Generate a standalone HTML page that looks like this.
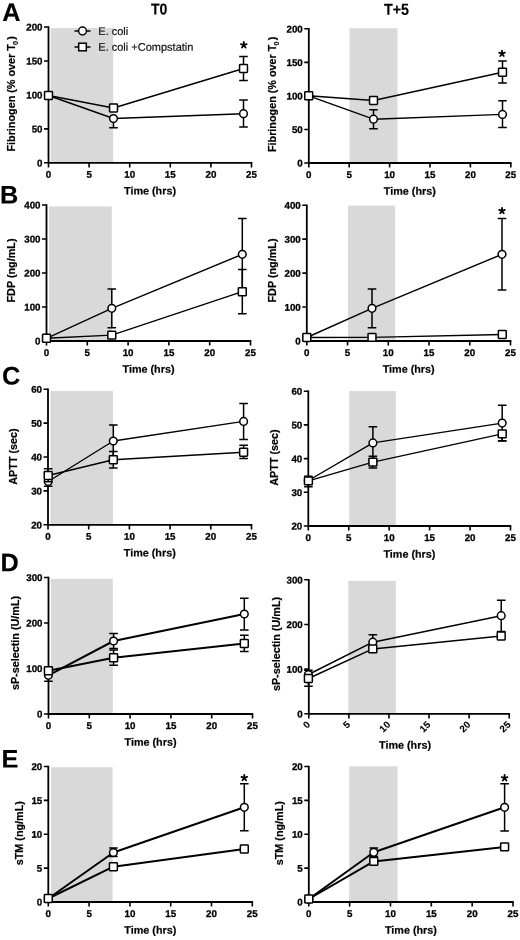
<!DOCTYPE html><html><head><meta charset="utf-8"><style>
html,body{margin:0;padding:0;background:#fff;width:520px;height:940px;overflow:hidden}
svg{display:block;will-change:transform;filter:blur(0.35px)} text{font-family:"Liberation Sans", sans-serif;font-weight:bold;fill:#000;stroke:#000;stroke-width:0.3px}
.tk{font-size:9.75px}.tkr{font-size:9.7px;stroke-width:0.1px}.ti{font-size:10.8px;stroke-width:0.2px}.pl{font-size:25.3px;stroke-width:0.15px}.hd{font-size:15.8px;stroke-width:0.15px}.st{font-size:13px}.lg{font-size:11px;font-weight:normal;fill:#111;stroke:#111;stroke-width:0.2px}
</style></head><body>
<svg width="520" height="940" viewBox="0 0 520 940">
<rect width="520" height="940" fill="#fff"/>
<text x="151" y="14.4" class="hd" textLength="16.4" lengthAdjust="spacingAndGlyphs" transform="rotate(0.05 151 14.4)">T0</text>
<text x="384" y="14.7" class="hd" textLength="25" lengthAdjust="spacingAndGlyphs" transform="rotate(0.05 384 14.7)">T+5</text>
<text x="2.3" y="21" class="pl" transform="rotate(0.05 2.3 21)">A</text>
<text x="0.1" y="203.5" class="pl" transform="rotate(0.05 0.1 203.5)">B</text>
<text x="1.9" y="384.6" class="pl" transform="rotate(0.05 1.9 384.6)">C</text>
<text x="0.5" y="571.2" class="pl" transform="rotate(0.05 0.5 571.2)">D</text>
<text x="1.4" y="767.6" class="pl" transform="rotate(0.05 1.4 767.6)">E</text>
<rect x="50.7" y="28.1" width="62.5" height="134.7" fill="#d9d9d9"/>
<path d="M48.5 26.2V162.8H252.3" fill="none" stroke="#000" stroke-width="1.8"/>
<path d="M44 162.8H48.5M44 128.85H48.5M44 94.9H48.5M44 60.95H48.5M44 27H48.5M48.5 162.8V167.4M89.1 162.8V167.4M129.7 162.8V167.4M170.3 162.8V167.4M210.9 162.8V167.4M251.5 162.8V167.4" fill="none" stroke="#000" stroke-width="1.6"/>
<text x="42.5" y="166.4" class="tk" text-anchor="end" transform="rotate(0.05 42.5 166.4)">0</text>
<text x="42.5" y="132.45" class="tk" text-anchor="end" transform="rotate(0.05 42.5 132.45)">50</text>
<text x="42.5" y="98.5" class="tk" text-anchor="end" transform="rotate(0.05 42.5 98.5)">100</text>
<text x="42.5" y="64.55" class="tk" text-anchor="end" transform="rotate(0.05 42.5 64.55)">150</text>
<text x="42.5" y="30.6" class="tk" text-anchor="end" transform="rotate(0.05 42.5 30.6)">200</text>
<text x="48.5" y="177.8" class="tk" text-anchor="middle" transform="rotate(0.05 48.5 177.8)">0</text>
<text x="89.1" y="177.8" class="tk" text-anchor="middle" transform="rotate(0.05 89.1 177.8)">5</text>
<text x="129.7" y="177.8" class="tk" text-anchor="middle" transform="rotate(0.05 129.7 177.8)">10</text>
<text x="170.3" y="177.8" class="tk" text-anchor="middle" transform="rotate(0.05 170.3 177.8)">15</text>
<text x="210.9" y="177.8" class="tk" text-anchor="middle" transform="rotate(0.05 210.9 177.8)">20</text>
<text x="251.5" y="177.8" class="tk" text-anchor="middle" transform="rotate(0.05 251.5 177.8)">25</text>
<text x="150" y="194.6" class="ti" text-anchor="middle" transform="rotate(0.05 150 194.6)">Time (hrs)</text>
<text class="ti" text-anchor="middle" transform="translate(15,93.9) rotate(-90)">Fibrinogen (% over T<tspan font-size="7.2" dy="2.9" dx="-0.8">0</tspan><tspan dy="-2.9" dx="1.1">)</tspan></text>
<path d="M48.5 95.5 L113.5 118.5 L243.5 113.7" fill="none" stroke="#000" stroke-width="1.4" stroke-linejoin="round"/>
<path d="M113.5 118.5V127.8M109.2 127.8H117.8M243.5 113.7V100M239.2 100H247.8M243.5 113.7V127M239.2 127H247.8" fill="none" stroke="#000" stroke-width="1.5"/>
<circle cx="48.5" cy="95.5" r="3.85" fill="#fff" stroke="#000" stroke-width="1.5"/>
<circle cx="113.5" cy="118.5" r="3.85" fill="#fff" stroke="#000" stroke-width="1.5"/>
<circle cx="243.5" cy="113.7" r="3.85" fill="#fff" stroke="#000" stroke-width="1.5"/>
<path d="M48.5 95.5 L113.5 108 L243.5 68.5" fill="none" stroke="#000" stroke-width="1.4" stroke-linejoin="round"/>
<path d="M243.5 68.5V56.5M239.2 56.5H247.8M243.5 68.5V80.5M239.2 80.5H247.8" fill="none" stroke="#000" stroke-width="1.5"/>
<rect x="44.55" y="91.55" width="7.9" height="7.9" rx="0.6" fill="#fff" stroke="#000" stroke-width="1.5"/>
<rect x="109.55" y="104.05" width="7.9" height="7.9" rx="0.6" fill="#fff" stroke="#000" stroke-width="1.5"/>
<rect x="239.55" y="64.55" width="7.9" height="7.9" rx="0.6" fill="#fff" stroke="#000" stroke-width="1.5"/>
<path d="M243.8 45L243.8 42M243.8 45L246.65 44.07M243.8 45L245.56 47.43M243.8 45L242.04 47.43M243.8 45L240.95 44.07" stroke="#000" stroke-width="1.8" stroke-linecap="round"/>
<path d="M74.5 31H90.5M74.5 47H90.5" stroke="#000" stroke-width="1.5"/>
<circle cx="82.5" cy="31" r="3.9" fill="#fff" stroke="#000" stroke-width="1.5"/>
<rect x="78.7" y="43.2" width="7.6" height="7.6" fill="#fff" stroke="#000" stroke-width="1.5"/>
<text x="98.3" y="34.9" class="lg" transform="rotate(0.05 98.3 34.9)">E. coli</text>
<text x="98.3" y="50.7" class="lg" transform="rotate(0.05 98.3 50.7)">E. coli +Compstatin</text>
<rect x="349.5" y="28.3" width="48" height="134.7" fill="#d9d9d9"/>
<path d="M308.8 28V163H511.6" fill="none" stroke="#000" stroke-width="1.8"/>
<path d="M304.3 163H308.8M304.3 129.45H308.8M304.3 95.9H308.8M304.3 62.35H308.8M304.3 28.8H308.8M308.8 163V167.6M349.2 163V167.6M389.6 163V167.6M430 163V167.6M470.4 163V167.6M510.8 163V167.6" fill="none" stroke="#000" stroke-width="1.6"/>
<text x="302.8" y="166.6" class="tk" text-anchor="end" transform="rotate(0.05 302.8 166.6)">0</text>
<text x="302.8" y="133.05" class="tk" text-anchor="end" transform="rotate(0.05 302.8 133.05)">50</text>
<text x="302.8" y="99.5" class="tk" text-anchor="end" transform="rotate(0.05 302.8 99.5)">100</text>
<text x="302.8" y="65.95" class="tk" text-anchor="end" transform="rotate(0.05 302.8 65.95)">150</text>
<text x="302.8" y="32.4" class="tk" text-anchor="end" transform="rotate(0.05 302.8 32.4)">200</text>
<text x="308.8" y="178" class="tk" text-anchor="middle" transform="rotate(0.05 308.8 178)">0</text>
<text x="349.2" y="178" class="tk" text-anchor="middle" transform="rotate(0.05 349.2 178)">5</text>
<text x="389.6" y="178" class="tk" text-anchor="middle" transform="rotate(0.05 389.6 178)">10</text>
<text x="430" y="178" class="tk" text-anchor="middle" transform="rotate(0.05 430 178)">15</text>
<text x="470.4" y="178" class="tk" text-anchor="middle" transform="rotate(0.05 470.4 178)">20</text>
<text x="510.8" y="178" class="tk" text-anchor="middle" transform="rotate(0.05 510.8 178)">25</text>
<text x="409.8" y="194.8" class="ti" text-anchor="middle" transform="rotate(0.05 409.8 194.8)">Time (hrs)</text>
<text class="ti" text-anchor="middle" transform="translate(275.8,94.4) rotate(-90)">Fibrinogen (% over T<tspan font-size="7.2" dy="2.9" dx="-0.8">0</tspan><tspan dy="-2.9" dx="1.1">)</tspan></text>
<path d="M308.7 95.8 L373.5 119.2 L502.5 114.4" fill="none" stroke="#000" stroke-width="1.4" stroke-linejoin="round"/>
<path d="M373.5 119.2V109.7M369.2 109.7H377.8M373.5 119.2V128.7M369.2 128.7H377.8M502.5 114.4V100.8M498.2 100.8H506.8M502.5 114.4V127.4M498.2 127.4H506.8" fill="none" stroke="#000" stroke-width="1.5"/>
<circle cx="308.7" cy="95.8" r="3.85" fill="#fff" stroke="#000" stroke-width="1.5"/>
<circle cx="373.5" cy="119.2" r="3.85" fill="#fff" stroke="#000" stroke-width="1.5"/>
<circle cx="502.5" cy="114.4" r="3.85" fill="#fff" stroke="#000" stroke-width="1.5"/>
<path d="M308.7 95.8 L373.5 100.5 L502.5 72.2" fill="none" stroke="#000" stroke-width="1.4" stroke-linejoin="round"/>
<path d="M502.5 72.2V61M498.2 61H506.8M502.5 72.2V83M498.2 83H506.8" fill="none" stroke="#000" stroke-width="1.5"/>
<rect x="304.75" y="91.85" width="7.9" height="7.9" rx="0.6" fill="#fff" stroke="#000" stroke-width="1.5"/>
<rect x="369.55" y="96.55" width="7.9" height="7.9" rx="0.6" fill="#fff" stroke="#000" stroke-width="1.5"/>
<rect x="498.55" y="68.25" width="7.9" height="7.9" rx="0.6" fill="#fff" stroke="#000" stroke-width="1.5"/>
<path d="M502 53.6L502 50.6M502 53.6L504.85 52.67M502 53.6L503.76 56.03M502 53.6L500.24 56.03M502 53.6L499.15 52.67" stroke="#000" stroke-width="1.8" stroke-linecap="round"/>
<rect x="49" y="206.4" width="62.8" height="134.6" fill="#d9d9d9"/>
<path d="M46.5 204.2V341H251.3" fill="none" stroke="#000" stroke-width="1.8"/>
<path d="M42 341H46.5M42 307H46.5M42 273H46.5M42 239H46.5M42 205H46.5M46.5 341V345.6M87.3 341V345.6M128.1 341V345.6M168.9 341V345.6M209.7 341V345.6M250.5 341V345.6" fill="none" stroke="#000" stroke-width="1.6"/>
<text x="40.5" y="344.6" class="tk" text-anchor="end" transform="rotate(0.05 40.5 344.6)">0</text>
<text x="40.5" y="310.6" class="tk" text-anchor="end" transform="rotate(0.05 40.5 310.6)">100</text>
<text x="40.5" y="276.6" class="tk" text-anchor="end" transform="rotate(0.05 40.5 276.6)">200</text>
<text x="40.5" y="242.6" class="tk" text-anchor="end" transform="rotate(0.05 40.5 242.6)">300</text>
<text x="40.5" y="208.6" class="tk" text-anchor="end" transform="rotate(0.05 40.5 208.6)">400</text>
<text x="46.5" y="356" class="tk" text-anchor="middle" transform="rotate(0.05 46.5 356)">0</text>
<text x="87.3" y="356" class="tk" text-anchor="middle" transform="rotate(0.05 87.3 356)">5</text>
<text x="128.1" y="356" class="tk" text-anchor="middle" transform="rotate(0.05 128.1 356)">10</text>
<text x="168.9" y="356" class="tk" text-anchor="middle" transform="rotate(0.05 168.9 356)">15</text>
<text x="209.7" y="356" class="tk" text-anchor="middle" transform="rotate(0.05 209.7 356)">20</text>
<text x="250.5" y="356" class="tk" text-anchor="middle" transform="rotate(0.05 250.5 356)">25</text>
<text x="148.5" y="372.8" class="ti" text-anchor="middle" transform="rotate(0.05 148.5 372.8)">Time (hrs)</text>
<text class="ti" text-anchor="middle" transform="translate(15.3,270.5) rotate(-90)">FDP (ng/mL)</text>
<path d="M46.5 338.3 L111.8 308.3 L242.3 254.3" fill="none" stroke="#000" stroke-width="1.4" stroke-linejoin="round"/>
<path d="M111.8 308.3V289.1M107.5 289.1H116.1M111.8 308.3V327.7M107.5 327.7H116.1M242.3 254.3V218.5M238 218.5H246.6M242.3 254.3V290.1M238 290.1H246.6" fill="none" stroke="#000" stroke-width="1.5"/>
<circle cx="46.5" cy="338.3" r="3.85" fill="#fff" stroke="#000" stroke-width="1.5"/>
<circle cx="111.8" cy="308.3" r="3.85" fill="#fff" stroke="#000" stroke-width="1.5"/>
<circle cx="242.3" cy="254.3" r="3.85" fill="#fff" stroke="#000" stroke-width="1.5"/>
<path d="M46.5 338.3 L111.8 335.1 L242.3 291.7" fill="none" stroke="#000" stroke-width="1.4" stroke-linejoin="round"/>
<path d="M242.3 291.7V269.6M238 269.6H246.6M242.3 291.7V313.7M238 313.7H246.6" fill="none" stroke="#000" stroke-width="1.5"/>
<rect x="42.55" y="334.35" width="7.9" height="7.9" rx="0.6" fill="#fff" stroke="#000" stroke-width="1.5"/>
<rect x="107.85" y="331.15" width="7.9" height="7.9" rx="0.6" fill="#fff" stroke="#000" stroke-width="1.5"/>
<rect x="238.35" y="287.75" width="7.9" height="7.9" rx="0.6" fill="#fff" stroke="#000" stroke-width="1.5"/>
<rect x="348" y="205.6" width="47.2" height="135.4" fill="#d9d9d9"/>
<path d="M306.8 204.4V341H511.3" fill="none" stroke="#000" stroke-width="1.8"/>
<path d="M302.3 341H306.8M302.3 307.05H306.8M302.3 273.1H306.8M302.3 239.15H306.8M302.3 205.2H306.8M306.8 341V345.6M347.54 341V345.6M388.28 341V345.6M429.02 341V345.6M469.76 341V345.6M510.5 341V345.6" fill="none" stroke="#000" stroke-width="1.6"/>
<text x="300.8" y="344.6" class="tk" text-anchor="end" transform="rotate(0.05 300.8 344.6)">0</text>
<text x="300.8" y="310.65" class="tk" text-anchor="end" transform="rotate(0.05 300.8 310.65)">100</text>
<text x="300.8" y="276.7" class="tk" text-anchor="end" transform="rotate(0.05 300.8 276.7)">200</text>
<text x="300.8" y="242.75" class="tk" text-anchor="end" transform="rotate(0.05 300.8 242.75)">300</text>
<text x="300.8" y="208.8" class="tk" text-anchor="end" transform="rotate(0.05 300.8 208.8)">400</text>
<text x="306.8" y="356" class="tk" text-anchor="middle" transform="rotate(0.05 306.8 356)">0</text>
<text x="347.54" y="356" class="tk" text-anchor="middle" transform="rotate(0.05 347.54 356)">5</text>
<text x="388.28" y="356" class="tk" text-anchor="middle" transform="rotate(0.05 388.28 356)">10</text>
<text x="429.02" y="356" class="tk" text-anchor="middle" transform="rotate(0.05 429.02 356)">15</text>
<text x="469.76" y="356" class="tk" text-anchor="middle" transform="rotate(0.05 469.76 356)">20</text>
<text x="510.5" y="356" class="tk" text-anchor="middle" transform="rotate(0.05 510.5 356)">25</text>
<text x="408.65" y="372.8" class="ti" text-anchor="middle" transform="rotate(0.05 408.65 372.8)">Time (hrs)</text>
<text class="ti" text-anchor="middle" transform="translate(275.9,270.5) rotate(-90)">FDP (ng/mL)</text>
<path d="M306.8 337.5 L372 308.3 L502 254.3" fill="none" stroke="#000" stroke-width="1.4" stroke-linejoin="round"/>
<path d="M372 308.3V289.1M367.7 289.1H376.3M372 308.3V327.7M367.7 327.7H376.3M502 254.3V218.5M497.7 218.5H506.3M502 254.3V290M497.7 290H506.3" fill="none" stroke="#000" stroke-width="1.5"/>
<circle cx="306.8" cy="337.5" r="3.85" fill="#fff" stroke="#000" stroke-width="1.5"/>
<circle cx="372" cy="308.3" r="3.85" fill="#fff" stroke="#000" stroke-width="1.5"/>
<circle cx="502" cy="254.3" r="3.85" fill="#fff" stroke="#000" stroke-width="1.5"/>
<path d="M306.8 337.5 L372 337.4 L502.3 334.5" fill="none" stroke="#000" stroke-width="1.4" stroke-linejoin="round"/>
<rect x="302.85" y="333.55" width="7.9" height="7.9" rx="0.6" fill="#fff" stroke="#000" stroke-width="1.5"/>
<rect x="368.05" y="333.45" width="7.9" height="7.9" rx="0.6" fill="#fff" stroke="#000" stroke-width="1.5"/>
<rect x="498.35" y="330.55" width="7.9" height="7.9" rx="0.6" fill="#fff" stroke="#000" stroke-width="1.5"/>
<path d="M502 210.9L502 207.9M502 210.9L504.85 209.97M502 210.9L503.76 213.33M502 210.9L500.24 213.33M502 210.9L499.15 209.97" stroke="#000" stroke-width="1.8" stroke-linecap="round"/>
<rect x="50.5" y="391" width="62.5" height="133.8" fill="#d9d9d9"/>
<path d="M48 388.4V524.8H252.3" fill="none" stroke="#000" stroke-width="1.8"/>
<path d="M43.5 524.8H48M43.5 490.9H48M43.5 457H48M43.5 423.1H48M43.5 389.2H48M48 524.8V529.4M88.7 524.8V529.4M129.4 524.8V529.4M170.1 524.8V529.4M210.8 524.8V529.4M251.5 524.8V529.4" fill="none" stroke="#000" stroke-width="1.6"/>
<text x="42" y="528.4" class="tk" text-anchor="end" transform="rotate(0.05 42 528.4)">20</text>
<text x="42" y="494.5" class="tk" text-anchor="end" transform="rotate(0.05 42 494.5)">30</text>
<text x="42" y="460.6" class="tk" text-anchor="end" transform="rotate(0.05 42 460.6)">40</text>
<text x="42" y="426.7" class="tk" text-anchor="end" transform="rotate(0.05 42 426.7)">50</text>
<text x="42" y="392.8" class="tk" text-anchor="end" transform="rotate(0.05 42 392.8)">60</text>
<text x="48" y="539.8" class="tk" text-anchor="middle" transform="rotate(0.05 48 539.8)">0</text>
<text x="88.7" y="539.8" class="tk" text-anchor="middle" transform="rotate(0.05 88.7 539.8)">5</text>
<text x="129.4" y="539.8" class="tk" text-anchor="middle" transform="rotate(0.05 129.4 539.8)">10</text>
<text x="170.1" y="539.8" class="tk" text-anchor="middle" transform="rotate(0.05 170.1 539.8)">15</text>
<text x="210.8" y="539.8" class="tk" text-anchor="middle" transform="rotate(0.05 210.8 539.8)">20</text>
<text x="251.5" y="539.8" class="tk" text-anchor="middle" transform="rotate(0.05 251.5 539.8)">25</text>
<text x="149.75" y="556.6" class="ti" text-anchor="middle" transform="rotate(0.05 149.75 556.6)">Time (hrs)</text>
<text class="ti" text-anchor="middle" transform="translate(17,456.5) rotate(-90)">APTT (sec)</text>
<path d="M48.2 481.5 L113.3 441 L243.6 421.4" fill="none" stroke="#000" stroke-width="1.4" stroke-linejoin="round"/>
<path d="M48.2 481.5V486.3M43.9 486.3H52.5M113.3 441V424.9M109 424.9H117.6M113.3 441V457.1M109 457.1H117.6M243.6 421.4V403.5M239.3 403.5H247.9M243.6 421.4V439.4M239.3 439.4H247.9" fill="none" stroke="#000" stroke-width="1.5"/>
<circle cx="48.2" cy="481.5" r="3.85" fill="#fff" stroke="#000" stroke-width="1.5"/>
<circle cx="113.3" cy="441" r="3.85" fill="#fff" stroke="#000" stroke-width="1.5"/>
<circle cx="243.6" cy="421.4" r="3.85" fill="#fff" stroke="#000" stroke-width="1.5"/>
<path d="M48.2 475.5 L113.3 459.7 L243.6 452.2" fill="none" stroke="#000" stroke-width="1.4" stroke-linejoin="round"/>
<path d="M48.2 475.5V468.7M43.9 468.7H52.5M48.2 475.5V481.8M43.9 481.8H52.5M113.3 459.7V451.5M109 451.5H117.6M113.3 459.7V467.9M109 467.9H117.6M243.6 452.2V445.2M239.3 445.2H247.9M243.6 452.2V458.5M239.3 458.5H247.9" fill="none" stroke="#000" stroke-width="1.5"/>
<rect x="44.25" y="471.55" width="7.9" height="7.9" rx="0.6" fill="#fff" stroke="#000" stroke-width="1.5"/>
<rect x="109.35" y="455.75" width="7.9" height="7.9" rx="0.6" fill="#fff" stroke="#000" stroke-width="1.5"/>
<rect x="239.65" y="448.25" width="7.9" height="7.9" rx="0.6" fill="#fff" stroke="#000" stroke-width="1.5"/>
<rect x="349.2" y="391.1" width="46.6" height="134.9" fill="#d9d9d9"/>
<path d="M308.3 390.4V526H511.3" fill="none" stroke="#000" stroke-width="1.8"/>
<path d="M303.8 526H308.3M303.8 492.3H308.3M303.8 458.6H308.3M303.8 424.9H308.3M303.8 391.2H308.3M308.3 526V530.6M348.74 526V530.6M389.18 526V530.6M429.62 526V530.6M470.06 526V530.6M510.5 526V530.6" fill="none" stroke="#000" stroke-width="1.6"/>
<text x="302.3" y="529.6" class="tk" text-anchor="end" transform="rotate(0.05 302.3 529.6)">20</text>
<text x="302.3" y="495.9" class="tk" text-anchor="end" transform="rotate(0.05 302.3 495.9)">30</text>
<text x="302.3" y="462.2" class="tk" text-anchor="end" transform="rotate(0.05 302.3 462.2)">40</text>
<text x="302.3" y="428.5" class="tk" text-anchor="end" transform="rotate(0.05 302.3 428.5)">50</text>
<text x="302.3" y="394.8" class="tk" text-anchor="end" transform="rotate(0.05 302.3 394.8)">60</text>
<text x="308.3" y="541" class="tk" text-anchor="middle" transform="rotate(0.05 308.3 541)">0</text>
<text x="348.74" y="541" class="tk" text-anchor="middle" transform="rotate(0.05 348.74 541)">5</text>
<text x="389.18" y="541" class="tk" text-anchor="middle" transform="rotate(0.05 389.18 541)">10</text>
<text x="429.62" y="541" class="tk" text-anchor="middle" transform="rotate(0.05 429.62 541)">15</text>
<text x="470.06" y="541" class="tk" text-anchor="middle" transform="rotate(0.05 470.06 541)">20</text>
<text x="510.5" y="541" class="tk" text-anchor="middle" transform="rotate(0.05 510.5 541)">25</text>
<text x="409.4" y="557.8" class="ti" text-anchor="middle" transform="rotate(0.05 409.4 557.8)">Time (hrs)</text>
<text class="ti" text-anchor="middle" transform="translate(277.6,457.5) rotate(-90)">APTT (sec)</text>
<path d="M308.4 480.5 L372.9 442.9 L502.2 423.1" fill="none" stroke="#000" stroke-width="1.4" stroke-linejoin="round"/>
<path d="M372.9 442.9V426.8M368.6 426.8H377.2M372.9 442.9V459M368.6 459H377.2M502.2 423.1V405.2M497.9 405.2H506.5M502.2 423.1V441M497.9 441H506.5" fill="none" stroke="#000" stroke-width="1.5"/>
<circle cx="308.4" cy="480.5" r="3.85" fill="#fff" stroke="#000" stroke-width="1.5"/>
<circle cx="372.9" cy="442.9" r="3.85" fill="#fff" stroke="#000" stroke-width="1.5"/>
<circle cx="502.2" cy="423.1" r="3.85" fill="#fff" stroke="#000" stroke-width="1.5"/>
<path d="M308.4 480.9 L372.9 462.1 L502.2 433.9" fill="none" stroke="#000" stroke-width="1.4" stroke-linejoin="round"/>
<path d="M308.4 480.9V476.2M304.1 476.2H312.7M308.4 480.9V486.8M304.1 486.8H312.7M372.9 462.1V456.3M368.6 456.3H377.2M372.9 462.1V467.9M368.6 467.9H377.2M502.2 433.9V440.8M497.9 440.8H506.5" fill="none" stroke="#000" stroke-width="1.5"/>
<rect x="304.45" y="476.95" width="7.9" height="7.9" rx="0.6" fill="#fff" stroke="#000" stroke-width="1.5"/>
<rect x="368.95" y="458.15" width="7.9" height="7.9" rx="0.6" fill="#fff" stroke="#000" stroke-width="1.5"/>
<rect x="498.25" y="429.95" width="7.9" height="7.9" rx="0.6" fill="#fff" stroke="#000" stroke-width="1.5"/>
<rect x="51" y="578.8" width="61.8" height="135.2" fill="#d9d9d9"/>
<path d="M48.5 576.7V714H253.3" fill="none" stroke="#000" stroke-width="1.8"/>
<path d="M44 714H48.5M44 668.5H48.5M44 623H48.5M44 577.5H48.5M48.5 714V718.6M89.3 714V718.6M130.1 714V718.6M170.9 714V718.6M211.7 714V718.6M252.5 714V718.6" fill="none" stroke="#000" stroke-width="1.6"/>
<text x="42.5" y="717.6" class="tk" text-anchor="end" transform="rotate(0.05 42.5 717.6)">0</text>
<text x="42.5" y="672.1" class="tk" text-anchor="end" transform="rotate(0.05 42.5 672.1)">100</text>
<text x="42.5" y="626.6" class="tk" text-anchor="end" transform="rotate(0.05 42.5 626.6)">200</text>
<text x="42.5" y="581.1" class="tk" text-anchor="end" transform="rotate(0.05 42.5 581.1)">300</text>
<text x="48.5" y="729" class="tk" text-anchor="middle" transform="rotate(0.05 48.5 729)">0</text>
<text x="89.3" y="729" class="tk" text-anchor="middle" transform="rotate(0.05 89.3 729)">5</text>
<text x="130.1" y="729" class="tk" text-anchor="middle" transform="rotate(0.05 130.1 729)">10</text>
<text x="170.9" y="729" class="tk" text-anchor="middle" transform="rotate(0.05 170.9 729)">15</text>
<text x="211.7" y="729" class="tk" text-anchor="middle" transform="rotate(0.05 211.7 729)">20</text>
<text x="252.5" y="729" class="tk" text-anchor="middle" transform="rotate(0.05 252.5 729)">25</text>
<text x="150.5" y="745.8" class="ti" text-anchor="middle" transform="rotate(0.05 150.5 745.8)">Time (hrs)</text>
<text class="ti" text-anchor="middle" transform="translate(18.8,643) rotate(-90)">sP-selectin (U/mL)</text>
<path d="M48.4 675.3 L113.6 641 L244.3 614" fill="none" stroke="#000" stroke-width="2.0" stroke-linejoin="round"/>
<path d="M48.4 675.3V681.3M44.1 681.3H52.7M113.6 641V633.4M109.3 633.4H117.9M113.6 641V648.6M109.3 648.6H117.9M244.3 614V598.3M240 598.3H248.6M244.3 614V630M240 630H248.6" fill="none" stroke="#000" stroke-width="1.5"/>
<circle cx="48.4" cy="675.3" r="3.85" fill="#fff" stroke="#000" stroke-width="1.5"/>
<circle cx="113.6" cy="641" r="3.85" fill="#fff" stroke="#000" stroke-width="1.5"/>
<circle cx="244.3" cy="614" r="3.85" fill="#fff" stroke="#000" stroke-width="1.5"/>
<path d="M48.4 670.7 L113.6 657.8 L244.3 643.5" fill="none" stroke="#000" stroke-width="2.0" stroke-linejoin="round"/>
<path d="M113.6 657.8V649.9M109.3 649.9H117.9M113.6 657.8V665.3M109.3 665.3H117.9M244.3 643.5V635.2M240 635.2H248.6M244.3 643.5V651.6M240 651.6H248.6" fill="none" stroke="#000" stroke-width="1.5"/>
<rect x="44.45" y="666.75" width="7.9" height="7.9" rx="0.6" fill="#fff" stroke="#000" stroke-width="1.5"/>
<rect x="109.65" y="653.85" width="7.9" height="7.9" rx="0.6" fill="#fff" stroke="#000" stroke-width="1.5"/>
<rect x="240.35" y="639.55" width="7.9" height="7.9" rx="0.6" fill="#fff" stroke="#000" stroke-width="1.5"/>
<rect x="348.3" y="580.9" width="47.5" height="132.9" fill="#d9d9d9"/>
<path d="M308.8 579V713.8H510" fill="none" stroke="#000" stroke-width="1.8"/>
<path d="M304.3 713.8H308.8M304.3 669.13H308.8M304.3 624.47H308.8M304.3 579.8H308.8M308.8 713.8V718.4M348.88 713.8V718.4M388.96 713.8V718.4M429.04 713.8V718.4M469.12 713.8V718.4M509.2 713.8V718.4" fill="none" stroke="#000" stroke-width="1.6"/>
<text x="302.8" y="717.4" class="tk" text-anchor="end" transform="rotate(0.05 302.8 717.4)">0</text>
<text x="302.8" y="672.73" class="tk" text-anchor="end" transform="rotate(0.05 302.8 672.73)">100</text>
<text x="302.8" y="628.07" class="tk" text-anchor="end" transform="rotate(0.05 302.8 628.07)">200</text>
<text x="302.8" y="583.4" class="tk" text-anchor="end" transform="rotate(0.05 302.8 583.4)">300</text>
<text class="tk tkr" text-anchor="end" transform="translate(310.8,725.3) rotate(-45)">0</text>
<text class="tk tkr" text-anchor="end" transform="translate(350.88,725.3) rotate(-45)">5</text>
<text class="tk tkr" text-anchor="end" transform="translate(390.96,725.3) rotate(-45)">10</text>
<text class="tk tkr" text-anchor="end" transform="translate(431.04,725.3) rotate(-45)">15</text>
<text class="tk tkr" text-anchor="end" transform="translate(471.12,725.3) rotate(-45)">20</text>
<text class="tk tkr" text-anchor="end" transform="translate(511.2,725.3) rotate(-45)">25</text>
<text x="405" y="748.8" class="ti" text-anchor="middle" transform="rotate(0.05 405 748.8)">Time (hrs)</text>
<text class="ti" text-anchor="middle" transform="translate(279.5,644) rotate(-90)">sP-selectin (U/mL)</text>
<path d="M308.4 674.5 L372.8 642.2 L501.2 615.7" fill="none" stroke="#000" stroke-width="1.5" stroke-linejoin="round"/>
<path d="M308.4 674.5V670.2M304.1 670.2H312.7M372.8 642.2V634.8M368.5 634.8H377.1M501.2 615.7V600.3M496.9 600.3H505.5M501.2 615.7V631.5M496.9 631.5H505.5" fill="none" stroke="#000" stroke-width="1.5"/>
<circle cx="308.4" cy="674.5" r="3.85" fill="#fff" stroke="#000" stroke-width="1.5"/>
<circle cx="372.8" cy="642.2" r="3.85" fill="#fff" stroke="#000" stroke-width="1.5"/>
<circle cx="501.2" cy="615.7" r="3.85" fill="#fff" stroke="#000" stroke-width="1.5"/>
<path d="M308.4 678.5 L372.8 648.9 L501.2 636" fill="none" stroke="#000" stroke-width="1.5" stroke-linejoin="round"/>
<path d="M308.4 678.5V686.3M304.1 686.3H312.7" fill="none" stroke="#000" stroke-width="1.5"/>
<rect x="304.45" y="674.55" width="7.9" height="7.9" rx="0.6" fill="#fff" stroke="#000" stroke-width="1.5"/>
<rect x="368.85" y="644.95" width="7.9" height="7.9" rx="0.6" fill="#fff" stroke="#000" stroke-width="1.5"/>
<rect x="497.25" y="632.05" width="7.9" height="7.9" rx="0.6" fill="#fff" stroke="#000" stroke-width="1.5"/>
<rect x="51" y="767.2" width="61.6" height="134.8" fill="#d9d9d9"/>
<path d="M48.3 765.7V902H253.1" fill="none" stroke="#000" stroke-width="1.8"/>
<path d="M43.8 902H48.3M43.8 868.12H48.3M43.8 834.25H48.3M43.8 800.38H48.3M43.8 766.5H48.3M48.3 902V906.6M89.1 902V906.6M129.9 902V906.6M170.7 902V906.6M211.5 902V906.6M252.3 902V906.6" fill="none" stroke="#000" stroke-width="1.6"/>
<text x="42.3" y="905.6" class="tk" text-anchor="end" transform="rotate(0.05 42.3 905.6)">0</text>
<text x="42.3" y="871.73" class="tk" text-anchor="end" transform="rotate(0.05 42.3 871.73)">5</text>
<text x="42.3" y="837.85" class="tk" text-anchor="end" transform="rotate(0.05 42.3 837.85)">10</text>
<text x="42.3" y="803.98" class="tk" text-anchor="end" transform="rotate(0.05 42.3 803.98)">15</text>
<text x="42.3" y="770.1" class="tk" text-anchor="end" transform="rotate(0.05 42.3 770.1)">20</text>
<text x="48.3" y="917" class="tk" text-anchor="middle" transform="rotate(0.05 48.3 917)">0</text>
<text x="89.1" y="917" class="tk" text-anchor="middle" transform="rotate(0.05 89.1 917)">5</text>
<text x="129.9" y="917" class="tk" text-anchor="middle" transform="rotate(0.05 129.9 917)">10</text>
<text x="170.7" y="917" class="tk" text-anchor="middle" transform="rotate(0.05 170.7 917)">15</text>
<text x="211.5" y="917" class="tk" text-anchor="middle" transform="rotate(0.05 211.5 917)">20</text>
<text x="252.3" y="917" class="tk" text-anchor="middle" transform="rotate(0.05 252.3 917)">25</text>
<text x="150.3" y="933.8" class="ti" text-anchor="middle" transform="rotate(0.05 150.3 933.8)">Time (hrs)</text>
<text class="ti" text-anchor="middle" transform="translate(22.8,833.2) rotate(-90)">sTM (ng/mL)</text>
<path d="M48.3 898.5 L113.4 852.5 L244.3 807.3" fill="none" stroke="#000" stroke-width="2.0" stroke-linejoin="round"/>
<path d="M113.4 852.5V848M109.1 848H117.7M113.4 852.5V856.6M109.1 856.6H117.7M244.3 807.3V783.8M240 783.8H248.6M244.3 807.3V830.7M240 830.7H248.6" fill="none" stroke="#000" stroke-width="1.5"/>
<circle cx="48.3" cy="898.5" r="3.85" fill="#fff" stroke="#000" stroke-width="1.5"/>
<circle cx="113.4" cy="852.5" r="3.85" fill="#fff" stroke="#000" stroke-width="1.5"/>
<circle cx="244.3" cy="807.3" r="3.85" fill="#fff" stroke="#000" stroke-width="1.5"/>
<path d="M48.3 898.5 L113.4 866.7 L244.3 849" fill="none" stroke="#000" stroke-width="2.0" stroke-linejoin="round"/>
<rect x="44.35" y="894.55" width="7.9" height="7.9" rx="0.6" fill="#fff" stroke="#000" stroke-width="1.5"/>
<rect x="109.45" y="862.75" width="7.9" height="7.9" rx="0.6" fill="#fff" stroke="#000" stroke-width="1.5"/>
<rect x="240.35" y="845.05" width="7.9" height="7.9" rx="0.6" fill="#fff" stroke="#000" stroke-width="1.5"/>
<path d="M244.3 777.8L244.3 774.8M244.3 777.8L247.15 776.87M244.3 777.8L246.06 780.23M244.3 777.8L242.54 780.23M244.3 777.8L241.45 776.87" stroke="#000" stroke-width="1.8" stroke-linecap="round"/>
<rect x="349.2" y="766.3" width="48.4" height="135.7" fill="#d9d9d9"/>
<path d="M308.8 765.7V902H513.8" fill="none" stroke="#000" stroke-width="1.8"/>
<path d="M304.3 902H308.8M304.3 868.12H308.8M304.3 834.25H308.8M304.3 800.38H308.8M304.3 766.5H308.8M308.8 902V906.6M349.64 902V906.6M390.48 902V906.6M431.32 902V906.6M472.16 902V906.6M513 902V906.6" fill="none" stroke="#000" stroke-width="1.6"/>
<text x="302.8" y="905.6" class="tk" text-anchor="end" transform="rotate(0.05 302.8 905.6)">0</text>
<text x="302.8" y="871.73" class="tk" text-anchor="end" transform="rotate(0.05 302.8 871.73)">5</text>
<text x="302.8" y="837.85" class="tk" text-anchor="end" transform="rotate(0.05 302.8 837.85)">10</text>
<text x="302.8" y="803.98" class="tk" text-anchor="end" transform="rotate(0.05 302.8 803.98)">15</text>
<text x="302.8" y="770.1" class="tk" text-anchor="end" transform="rotate(0.05 302.8 770.1)">20</text>
<text x="308.8" y="917" class="tk" text-anchor="middle" transform="rotate(0.05 308.8 917)">0</text>
<text x="349.64" y="917" class="tk" text-anchor="middle" transform="rotate(0.05 349.64 917)">5</text>
<text x="390.48" y="917" class="tk" text-anchor="middle" transform="rotate(0.05 390.48 917)">10</text>
<text x="431.32" y="917" class="tk" text-anchor="middle" transform="rotate(0.05 431.32 917)">15</text>
<text x="472.16" y="917" class="tk" text-anchor="middle" transform="rotate(0.05 472.16 917)">20</text>
<text x="513" y="917" class="tk" text-anchor="middle" transform="rotate(0.05 513 917)">25</text>
<text x="410.9" y="933.8" class="ti" text-anchor="middle" transform="rotate(0.05 410.9 933.8)">Time (hrs)</text>
<text class="ti" text-anchor="middle" transform="translate(282.5,833.2) rotate(-90)">sTM (ng/mL)</text>
<path d="M308.8 899 L373.8 852.3 L504.6 807.3" fill="none" stroke="#000" stroke-width="2.0" stroke-linejoin="round"/>
<path d="M373.8 852.3V848M369.5 848H378.1M373.8 852.3V856.6M369.5 856.6H378.1M504.6 807.3V783.8M500.3 783.8H508.9M504.6 807.3V831M500.3 831H508.9" fill="none" stroke="#000" stroke-width="1.5"/>
<circle cx="308.8" cy="899" r="3.85" fill="#fff" stroke="#000" stroke-width="1.5"/>
<circle cx="373.8" cy="852.3" r="3.85" fill="#fff" stroke="#000" stroke-width="1.5"/>
<circle cx="504.6" cy="807.3" r="3.85" fill="#fff" stroke="#000" stroke-width="1.5"/>
<path d="M308.8 899 L373.8 861.4 L504.6 846.9" fill="none" stroke="#000" stroke-width="2.0" stroke-linejoin="round"/>
<rect x="304.85" y="895.05" width="7.9" height="7.9" rx="0.6" fill="#fff" stroke="#000" stroke-width="1.5"/>
<rect x="369.85" y="857.45" width="7.9" height="7.9" rx="0.6" fill="#fff" stroke="#000" stroke-width="1.5"/>
<rect x="500.65" y="842.95" width="7.9" height="7.9" rx="0.6" fill="#fff" stroke="#000" stroke-width="1.5"/>
<path d="M504.6 778L504.6 775M504.6 778L507.45 777.07M504.6 778L506.36 780.43M504.6 778L502.84 780.43M504.6 778L501.75 777.07" stroke="#000" stroke-width="1.8" stroke-linecap="round"/>
</svg></body></html>
